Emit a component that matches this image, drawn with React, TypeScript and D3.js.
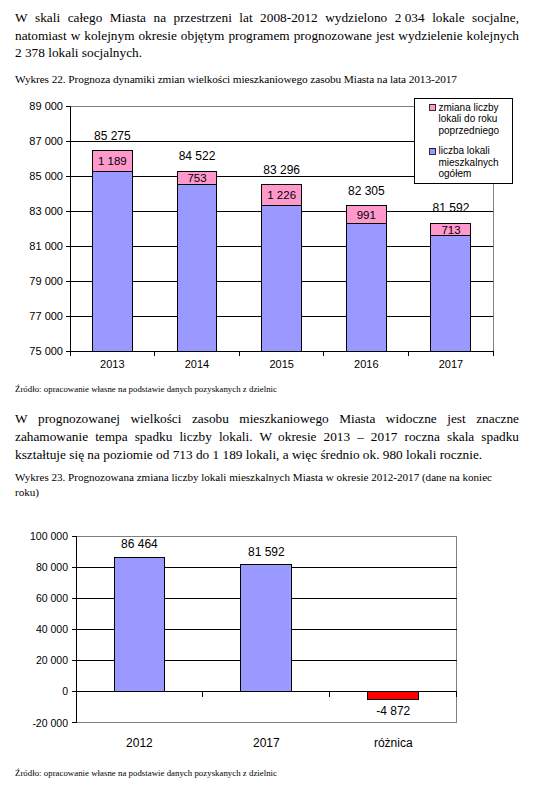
import React, { useLayoutEffect, useRef } from 'react';
import * as d3 from 'd3';

// ---------- data ----------
const years1 = ['2013', '2014', '2015', '2016', '2017'];
const totalStock = [85275, 84522, 83296, 82305, 81592];
const yearlyChange = [1189, 753, 1226, 991, 713];
const yTicks1 = [75000, 77000, 79000, 81000, 83000, 85000, 87000, 89000];
const legendChange = ['zmiana liczby', 'lokali do roku', 'poprzedniego'];
const legendTotal = ['liczba lokali', 'mieszkalnych', 'ogółem'];

const cats2 = ['2012', '2017', 'różnica'];
const values2 = [86464, 81592, -4872];
const yTicks2 = [-20000, 0, 20000, 40000, 60000, 80000, 100000];

const para1 = [
  'W skali całego Miasta na przestrzeni lat 2008-2012 wydzielono 2\u00a0034 lokale socjalne,',
  'natomiast w kolejnym okresie objętym programem prognozowane jest wydzielenie kolejnych',
  '2\u00a0378 lokali socjalnych.',
];
const caption1 = 'Wykres 22. Prognoza dynamiki zmian wielkości mieszkaniowego zasobu Miasta na lata 2013-2017';
const para2 = [
  'W prognozowanej wielkości zasobu mieszkaniowego Miasta widoczne jest znaczne',
  'zahamowanie tempa spadku liczby lokali. W okresie 2013 \u2013 2017 roczna skala spadku',
  'kształtuje się na poziomie od 713 do 1\u00a0189 lokali, a więc średnio ok. 980 lokali rocznie.',
];
const caption2 = [
  'Wykres 23. Prognozowana zmiana liczby lokali mieszkalnych Miasta w okresie 2012-2017 (dane na koniec',
  'roku)',
];
const sourceText = 'Źródło: opracowanie własne na podstawie danych pozyskanych z dzielnic';

// ---------- styles ----------
const SANS = '"Liberation Sans", Arial, sans-serif';
const SERIF = '"Liberation Serif", "Times New Roman", serif';
const BLUE = '#9999FF';
const PINK = '#FF99CC';
const RED = '#FF0000';
const GRAY = '#808080';

const fmt = d3.formatLocale({ decimal: ',', thousands: ' ', grouping: [3], currency: ['', ''], minus: '-' }).format(',d');

function Line({ x, y, width, size, text, justify, fit }: any) {
  const ref = useRef<SVGTextElement>(null);
  const words = text.split(' ');
  useLayoutEffect(() => {
    const el = ref.current;
    if (!el || !justify) return;
    const spans = Array.from(el.querySelectorAll('tspan')) as SVGTSpanElement[];
    const widths = spans.map((s) => s.getComputedTextLength());
    const sum = widths.reduce((a, b) => a + b, 0);
    const gap = (width - sum) / (spans.length - 1);
    let cx = x;
    spans.forEach((s, i) => {
      s.setAttribute('x', String(cx));
      cx += widths[i] + gap;
    });
  });
  if (!justify) {
    return (
      <text
        x={x}
        y={y}
        fontFamily={SERIF}
        fontSize={size}
        fill="#000"
        {...(fit ? { textLength: width, lengthAdjust: 'spacing' } : {})}
      >
        {text}
      </text>
    );
  }
  return (
    <text ref={ref} x={x} y={y} fontFamily={SERIF} fontSize={size} fill="#000">
      {words.map((w: string, i: number) => (
        <tspan key={i}>{w}</tspan>
      ))}
    </text>
  );
}

function Chart1() {
  const left = 70, right = 493.3, top = 106, bottom = 351;
  const x = d3.scaleBand<string>().domain(years1).range([left, right]).paddingInner(0.528).paddingOuter(0.264);
  const y = d3.scaleLinear().domain([75000, 89000]).range([bottom, top]);
  const step = x.step();
  const boundaries = d3.range(years1.length + 1).map((i) => left + i * step);
  return (
    <g fontFamily={SANS}>
      {/* plot border (gray) */}
      <line x1={left} x2={right} y1={top} y2={top} stroke={GRAY} />
      <line x1={right} x2={right} y1={top} y2={bottom} stroke={GRAY} />
      {/* gridlines */}
      {yTicks1.map((t) => (
        <g key={t}>
          {t !== 89000 && t !== 75000 && (
            <line x1={left} x2={right} y1={y(t)} y2={y(t)} stroke="#000" />
          )}
          <line x1={left - 4} x2={left} y1={y(t)} y2={y(t)} stroke="#000" />
          <text x={63} y={y(t) + 4} textAnchor="end" fontSize={11} fill="#000">
            {fmt(t)}
          </text>
        </g>
      ))}
      {/* bars */}
      {years1.map((yr, i) => {
        const bx = x(yr)!;
        const w = x.bandwidth();
        const total = totalStock[i];
        const ch = yearlyChange[i];
        return (
          <g key={yr}>
            <rect x={bx} y={y(total)} width={w} height={y(75000) - y(total)} fill={BLUE} stroke="#000" />
            <rect x={bx} y={y(total + ch)} width={w} height={y(total) - y(total + ch)} fill={PINK} stroke="#000" />
            <text x={bx + w / 2} y={(y(total) + y(total + ch)) / 2 + 4.1} textAnchor="middle" fontSize={11.5} fill="#000">
              {fmt(ch)}
            </text>
            <text x={bx + w / 2} y={y(total + ch) - 15 + 4.3} textAnchor="middle" fontSize={12} fill="#000">
              {fmt(total)}
            </text>
          </g>
        );
      })}
      {/* axes */}
      <line x1={left} x2={left} y1={top} y2={bottom} stroke="#000" />
      <line x1={left} x2={right} y1={bottom} y2={bottom} stroke="#000" />
      {boundaries.map((bx, i) => (
        <line key={i} x1={bx} x2={bx} y1={bottom} y2={bottom + 5} stroke="#000" />
      ))}
      {years1.map((yr) => (
        <text key={yr} x={x(yr)! + x.bandwidth() / 2} y={368} textAnchor="middle" fontSize={11} fill="#000">
          {yr}
        </text>
      ))}
      {/* legend */}
      <rect x={414.3} y={98.3} width={98} height={85} fill="#fff" stroke="#000" />
      <rect x={429.5} y={104} width={6} height={6} fill={PINK} stroke="#000" strokeWidth={0.8} />
      <rect x={429.5} y={148} width={6} height={6} fill={BLUE} stroke="#000" strokeWidth={0.8} />
      {legendChange.map((t, i) => (
        <text key={t} x={438.5} y={110.5 + i * 11.8} fontSize={10} fill="#000">
          {t}
        </text>
      ))}
      {legendTotal.map((t, i) => (
        <text key={t} x={438.5} y={154 + i * 11.7} fontSize={10} fill="#000">
          {t}
        </text>
      ))}
    </g>
  );
}

function Chart2() {
  const left = 76, right = 456.7, top = 536, bottom = 722.7;
  const x = d3.scaleBand<string>().domain(cats2).range([left, right]).paddingInner(0.6).paddingOuter(0.3);
  const y = d3.scaleLinear().domain([-20000, 100000]).range([bottom, top]);
  const step = x.step();
  const boundaries = d3.range(1, cats2.length + 1).map((i) => left + i * step);
  return (
    <g fontFamily={SANS}>
      <line x1={left} x2={right} y1={top} y2={top} stroke={GRAY} />
      <line x1={right} x2={right} y1={top} y2={bottom} stroke={GRAY} />
      <line x1={left} x2={right} y1={bottom} y2={bottom} stroke={GRAY} />
      {yTicks2.map((t) => (
        <g key={t}>
          {t !== 100000 && t !== -20000 && (
            <line x1={left} x2={right} y1={y(t)} y2={y(t)} stroke="#000" />
          )}
          <line x1={left - 4} x2={left} y1={y(t)} y2={y(t)} stroke="#000" />
          <text x={68} y={y(t) + 3.8} textAnchor="end" fontSize={10.5} fill="#000">
            {fmt(t)}
          </text>
        </g>
      ))}
      {cats2.map((c, i) => {
        const v = values2[i];
        const bx = x(c)!;
        const w = x.bandwidth();
        const y0 = y(Math.max(0, v));
        const y1 = y(Math.min(0, v));
        return (
          <g key={c}>
            <rect x={bx} y={y0} width={w} height={y1 - y0} fill={v < 0 ? RED : BLUE} stroke="#000" />
            <text
              x={bx + w / 2}
              y={v >= 0 ? y0 - 13 + 4.3 : y1 + 12 + 4.3}
              textAnchor="middle"
              fontSize={12}
              fill="#000"
            >
              {fmt(v)}
            </text>
          </g>
        );
      })}
      <line x1={left} x2={left} y1={top} y2={bottom} stroke="#000" />
      <line x1={left} x2={right} y1={y(0)} y2={y(0)} stroke="#000" />
      {boundaries.map((bx, i) => (
        <line key={i} x1={bx} x2={bx} y1={y(0)} y2={y(0) + 5} stroke="#000" />
      ))}
      {cats2.map((c) => (
        <text key={c} x={x(c)! + x.bandwidth() / 2} y={747} textAnchor="middle" fontSize={12} fill="#000">
          {c}
        </text>
      ))}
    </g>
  );
}

export default function App() {
  return (
    <svg
      width={559}
      height={793}
      viewBox="0 0 559 793"
      style={{ position: 'absolute', left: 0, top: 0, background: '#fff' }}
      shapeRendering="crispEdges"
    >
      <rect x={0} y={0} width={559} height={793} fill="#fff" />
      <Line x={15} y={22} width={504} size={13.3} text={para1[0]} justify />
      <Line x={15} y={39.5} width={504} size={13.3} text={para1[1]} justify />
      <Line x={15} y={57} width={504} size={13.3} text={para1[2]} />
      <Line x={15} y={83} width={442} size={11.3} text={caption1} fit />
      <Chart1 />
      <Line x={15} y={391.5} width={262} size={8.8} text={sourceText} fit />
      <Line x={15} y={423} width={504} size={13.3} text={para2[0]} justify />
      <Line x={15} y={441} width={504} size={13.3} text={para2[1]} justify />
      <Line x={15} y={458.5} width={504} size={13.3} text={para2[2]} />
      <Line x={15} y={481} width={477} size={11.1} text={caption2[0]} fit />
      <Line x={15} y={496} width={60} size={11.1} text={caption2[1]} />
      <Chart2 />
      <Line x={15} y={776} width={262} size={8.8} text={sourceText} fit />
    </svg>
  );
}
